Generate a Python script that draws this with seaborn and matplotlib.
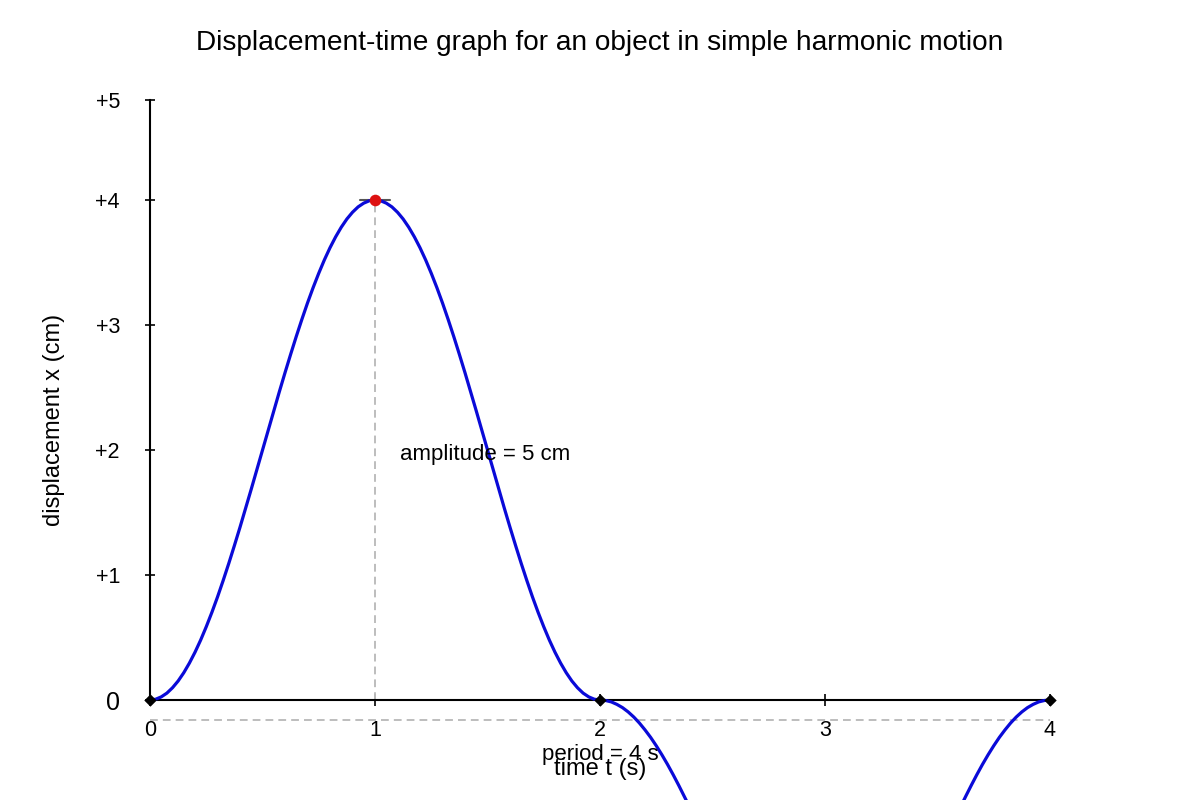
import matplotlib
matplotlib.use("Agg")
import matplotlib.pyplot as plt
import seaborn as sns
import pandas as pd

# ---------------- data ----------------
# first swing: 0 -> +4 -> 0 over 0..2 s
time_up = [0.000, 0.025, 0.050, 0.075, 0.100, 0.125, 0.150, 0.175, 0.200, 0.225,
           0.250, 0.275, 0.300, 0.325, 0.350, 0.375, 0.400, 0.425, 0.450, 0.475,
           0.500, 0.525, 0.550, 0.575, 0.600, 0.625, 0.650, 0.675, 0.700, 0.725,
           0.750, 0.775, 0.800, 0.825, 0.850, 0.875, 0.900, 0.925, 0.950, 0.975,
           1.000, 1.025, 1.050, 1.075, 1.100, 1.125, 1.150, 1.175, 1.200, 1.225,
           1.250, 1.275, 1.300, 1.325, 1.350, 1.375, 1.400, 1.425, 1.450, 1.475,
           1.500, 1.525, 1.550, 1.575, 1.600, 1.625, 1.650, 1.675, 1.700, 1.725,
           1.750, 1.775, 1.800, 1.825, 1.850, 1.875, 1.900, 1.925, 1.950, 1.975]
disp_up = [0.000, 0.006, 0.025, 0.055, 0.098, 0.152, 0.218, 0.295, 0.382, 0.479,
           0.586, 0.701, 0.824, 0.955, 1.092, 1.235, 1.382, 1.533, 1.687, 1.843,
           2.000, 2.157, 2.313, 2.467, 2.618, 2.765, 2.908, 3.045, 3.176, 3.299,
           3.414, 3.521, 3.618, 3.705, 3.782, 3.848, 3.902, 3.945, 3.975, 3.994,
           4.000, 3.994, 3.975, 3.945, 3.902, 3.848, 3.782, 3.705, 3.618, 3.521,
           3.414, 3.299, 3.176, 3.045, 2.908, 2.765, 2.618, 2.467, 2.313, 2.157,
           2.000, 1.843, 1.687, 1.533, 1.382, 1.235, 1.092, 0.955, 0.824, 0.701,
           0.586, 0.479, 0.382, 0.295, 0.218, 0.152, 0.098, 0.055, 0.025, 0.006]
# second swing: 0 -> below the frame -> 0 over 2..4 s
time_down = [2.000, 2.025, 2.050, 2.075, 2.100, 2.125, 2.150, 2.175, 2.200, 2.225,
             2.250, 2.275, 2.300, 2.325, 2.350, 2.375, 2.400, 2.425, 2.450, 2.475,
             2.500, 2.600, 2.700, 2.800, 2.900, 3.000, 3.100, 3.200, 3.300, 3.400,
             3.500, 3.525, 3.550, 3.575, 3.600, 3.625, 3.650, 3.675, 3.700, 3.725,
             3.750, 3.775, 3.800, 3.825, 3.850, 3.875, 3.900, 3.925, 3.950, 3.975,
             4.000]
disp_down = [0.000, -0.004, -0.015, -0.035, -0.061, -0.095, -0.136, -0.184, -0.239, -0.299,
             -0.366, -0.438, -0.515, -0.597, -0.683, -0.772, -0.864, -0.958, -1.054, -1.152,
             -1.250, -1.636, -1.985, -2.261, -2.439, -2.500, -2.439, -2.261, -1.985, -1.636,
             -1.250, -1.152, -1.054, -0.958, -0.864, -0.772, -0.683, -0.597, -0.515, -0.438,
             -0.366, -0.299, -0.239, -0.184, -0.136, -0.095, -0.061, -0.035, -0.015, -0.004,
             0.000]

zero_time = [0, 2, 4]
zero_disp = [0, 0, 0]
peak_time = [1]
peak_disp = [4]

period_start = 0
period_end = 4

xtick_values = [0, 1, 2, 3, 4]
xtick_labels = ["0", "1", "2", "3", "4"]
ytick_values = [0, 1, 2, 3, 4, 4.8]
ytick_labels = ["0", "+1", "+2", "+3", "+4", "+5"]

title_text = "Displacement-time graph for an object in simple harmonic motion"
xlabel_text = "time t (s)"
ylabel_text = "displacement x (cm)"
amplitude_text = "amplitude = 5 cm"
period_text = "period = 4 s"

# ---------------- style ----------------
sns.set_theme(style="ticks")
plt.rcParams["font.family"] = ["Liberation Sans", "DejaVu Sans"]
plt.rcParams["text.color"] = "black"
plt.rcParams["axes.labelcolor"] = "black"
plt.rcParams["xtick.color"] = "black"
plt.rcParams["ytick.color"] = "black"

curve_df = pd.DataFrame({"t": time_up + time_down, "x": disp_up + disp_down})

fig = plt.figure(figsize=(12, 8), dpi=100)
fig.patch.set_facecolor("white")
# axes: x 0..4 -> 150..1050 px ; y 0 -> 700 px, 125 px per unit
ax = fig.add_axes([0.125, -0.3125, 0.75, 1.1875])
ax.set_xlim(0, 4)
ax.set_ylim(-2.8, 4.8)
ax.set_facecolor("white")

# guide lines
ax.plot([peak_time[0], peak_time[0]], [0, peak_disp[0]], color="#bdbdbd",
        lw=1.4, linestyle=(0, (4.0, 2.6)), zorder=1)
ax.plot([period_start, period_end], [-0.16, -0.16], color="#bdbdbd",
        lw=1.4, linestyle=(0, (4.0, 2.6)), zorder=1, clip_on=False)
ax.plot([peak_time[0] - 0.065, peak_time[0] + 0.065], [peak_disp[0], peak_disp[0]],
        color="#555555", lw=1.5, zorder=2)

# curve
sns.lineplot(data=curve_df, x="t", y="x", ax=ax, color="#0a0ad8",
             linewidth=2.3, zorder=3, estimator=None, sort=False)

# markers
sns.scatterplot(x=zero_time, y=zero_disp, ax=ax, marker="D", s=40,
                color="black", edgecolor="black", linewidth=0, zorder=5,
                clip_on=False)
sns.scatterplot(x=peak_time, y=peak_disp, ax=ax, marker="o", s=70,
                color="#dd1111", edgecolor="#dd1111", linewidth=0, zorder=6,
                clip_on=False)

# spines / axes
ax.spines["top"].set_visible(False)
ax.spines["right"].set_visible(False)
ax.spines["left"].set_bounds(0, 4.8)
ax.spines["left"].set_linewidth(1.5)
ax.spines["left"].set_color("black")
ax.spines["bottom"].set_position(("data", 0))
ax.spines["bottom"].set_bounds(0, 4)
ax.spines["bottom"].set_linewidth(1.5)
ax.spines["bottom"].set_color("black")

ax.set_xticks(xtick_values)
ax.set_xticklabels(xtick_labels)
ax.set_yticks(ytick_values)
ax.set_yticklabels(ytick_labels)
ax.tick_params(axis="x", direction="inout", length=8.6, width=1.2,
               pad=10, labelsize=15.5)
ax.tick_params(axis="y", direction="inout", length=7.2, width=1.2,
               pad=18, labelsize=15.5)
# the "0" label on the displacement axis is drawn a little larger
ax.get_yticklabels()[0].set_fontsize(18)

# labels
ax.set_xlabel(xlabel_text, fontsize=17)
ax.xaxis.set_label_coords(0.5, 1 - 769 / 800, transform=fig.transFigure)
ax.xaxis.label.set_verticalalignment("center")
ax.set_ylabel(ylabel_text, fontsize=17)
ax.yaxis.set_label_coords(54 / 1200, 1 - 420 / 800, transform=fig.transFigure)
ax.yaxis.label.set_verticalalignment("center")

fig.text(0.5, 1 - 43 / 800, title_text, ha="center", va="center", fontsize=20.2)

ax.text(1.11, 1.965, amplitude_text, ha="left", va="center", fontsize=16)
ax.text(2.0, -0.435, period_text, ha="center", va="center", fontsize=16)

fig.savefig("out.png", dpi=100, facecolor="white")
